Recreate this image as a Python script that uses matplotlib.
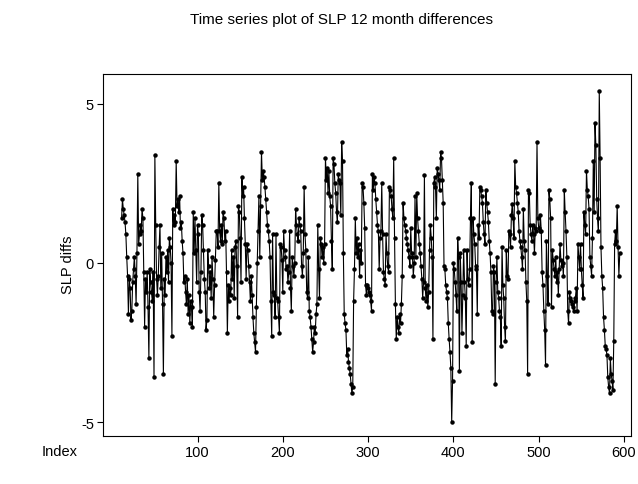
import matplotlib
matplotlib.use("Agg")
import matplotlib.pyplot as plt
import numpy as np

plt.rcParams['font.family'] = ['Liberation Sans', 'DejaVu Sans']
plt.rcParams['axes.unicode_minus'] = False

start_index = 11
seg1 = [1.4, 2.0, 1.7, 1.5, 1.3, 0.9, 0.2, -0.4, -1.6, -0.5, -0.8, -1.8, -1.5, -0.6, -0.2, 0.2, -0.4, -1.3, 0.3, 2.8,
        0.6, 0.9, 1.2, 1.0, 1.7, 1.4, -0.3, -2.0, -0.5, -0.9, -0.3, -1.4, -3.0, -0.2, -0.6, -0.9, -1.2, -0.3, -3.6, 3.4,
        1.2, -0.5, -1.0, -0.4]
seg2 = [0.5, 1.2, -0.8, 0.3, -1.3, -3.5, -0.5, -1.0, 0.2, -0.3, 0.4, -0.6, 0.8, 0.5, 0.0, -2.3, 1.7, 1.2, 1.5, 1.3,
        3.2, 1.8, 2.0, 1.6, 2.1, 1.1, 1.3, 0.7, 0.3, -0.6, -0.4, -0.9, -1.3, -0.5, -1.6, -1.0, -1.9, -1.2, -1.4, -2.0,
        1.6, 0.3, 1.4, 0.4, -0.6, 1.2, 0.9, -0.9, -1.5, -0.3]
seg3 = [1.5, 1.2, 0.4, -0.5, -0.9, -2.1, -1.8, 0.4, -0.1, -0.8, -0.3, -1.1, 0.2, -0.5, -1.7, -0.7, 0.1, 1.0, 1.0, 0.5,
        2.5, 1.0, 0.7, 1.2, 0.6, 1.6, 1.4, 0.7, 1.0, -0.3, -2.2, -0.7, -1.2, -0.8, -1.0, 0.4, -0.5, 0.2, -1.1, 0.5,
        0.7, -0.1, -1.7, 1.8, 1.6, 0.8, -0.6, 2.7, 2.1, 2.4]
seg4 = [1.4, 0.6, -0.5, 0.6, 0.4, -0.1, -0.6, -1.2, -0.4, -1.0, -1.7, -2.2, -2.5, -2.8, -1.4, 0.0, 1.0, 2.1, 0.2, 1.8,
        3.5, 2.6, 2.9, 2.7, 2.4, 2.0, 1.6, 1.2, 1.0, 0.7, 0.2, -1.2, -2.3, 0.9, -0.9, -1.0, -1.7, 0.9, -1.1, -1.2,
        -1.7, -2.2, 0.6, 0.5, 0.1, -0.9, 1.0, 0.4, 0.2, -0.2]
seg5 = [-0.1, -0.6, -0.3, 1.0, -0.8, -1.5, 0.2, -0.1, -0.4, 0.0, 1.7, 1.2, 0.9, 0.7, 1.4, 1.2, 1.0, -0.1, -0.4, 0.3,
        2.4, 0.9, 0.4, -0.9, -1.1, 0.2, -1.5, -1.7, -2.0, -2.4, -2.8, -2.5, -2.0, -2.2, -1.6, -1.3, 1.2, -0.2, -1.1, 0.8,
        0.6, 0.2, 0.5, 0.0, 0.6, 3.3, 2.6, 3.0, 2.2, 2.9]
seg6 = [2.1, 1.8, 0.7, -0.2, 3.3, 3.1, 2.5, 2.2, 1.6, 1.3, 2.8, 2.6, 2.5, 1.5, 3.8, 3.2, 0.3, -1.6, -1.9, -2.1,
        -2.9, -2.7, -3.1, -3.3, -3.5, -3.8, -4.1, -3.9, -1.2, -0.2, 1.4, 0.3, 0.8, 0.2, 0.6, -0.4, 0.4, 0.0, 2.5, 2.4,
        1.9, 1.1, -0.7, -1.0, -0.7, -0.8, -0.9, -1.0, -1.2, -1.5, 2.8, 2.3]
seg7 = [2.7, 2.5, 2.0, 1.6, 1.2, 1.0, -0.2, 0.8, 1.0, 2.5, 0.9, -0.3, -0.5, -0.7, 0.9, 0.3, -0.1, -0.3, 2.4, 2.3,
        2.1, 1.7, 1.4, 3.3, 0.8, -1.3, -2.4, -1.7, -2.0, -2.2, -1.6, -1.9, -1.3, -0.4, 1.9, 1.4, 1.2, 1.0, 0.8, 0.6,
        0.4, 0.2, -0.1, 1.1, 0.3, 0.2, -0.4, 0.0, 2.1, 0.2]
seg8 = [2.2, 1.4, 1.0, 0.6, 0.3, -0.1, -0.5, -1.1, -0.6, 2.75, -0.8, -1.2, -0.7, -1.4, -0.9, 0.4, 1.2, 0.8, 0.2, -2.4,
        2.5, 2.7, 2.4, 1.4, 3.0, 2.8, 2.6, 2.3, 3.5, 3.3, 2.6, 1.9, -0.1, -0.2, -0.7, -0.9, -1.1, -1.9, -2.4, -2.8,
        -3.3, -5.0, -3.7, 0.0, -0.2, -0.6, -1.0, -1.5, 0.8, 0.2]
seg9 = [-3.4, 0.3, -0.6, -2.2, -1.0, 0.4, -0.6, -1.1, -2.6, 0.4, -0.5, -0.7, -0.2, 1.4, 2.5, -2.5, 1.4, 0.9, 0.6, -0.1,
        -0.2, -1.6, 1.2, 0.8, 2.4, 2.3, 2.1, 1.9, 1.3, 0.9, 0.6, 2.3, 1.9, 1.6, 1.3, 0.7, 0.3, -0.3, -1.5, -1.6,
        -0.1, -0.3, -3.8, -0.6, 0.2, -0.9, -1.1, -1.5, -1.7, -2.6, 0.5]
seg10 = [-0.7, -1.1, -2.0, -2.45, 0.4, -0.4, -0.5, 1.0, 0.9, 0.5, 1.5, 1.85, 1.4, 0.8, 3.2, 2.4, 2.2, 1.9, 1.6, 1.0,
         0.7, 0.5, 0.2, -0.2, 1.7, 0.7, 0.4, -0.6, -1.2, -3.5, 2.3, 2.2, 1.2, 0.9, 0.7, 1.2, 0.9, 0.3, 1.1, 1.0,
         3.8, 1.4, 1.1, 1.0, 1.5, 1.0, -0.3, -0.7, -1.5, -2.1]
seg11 = [-3.2, 0.7, -0.4, -1.3, 2.3, 2.0, 1.4, -1.4, 0.4, 0.1, -0.2, -0.4, 0.2, -0.6, -0.3, -1.0, -0.2, 0.6, 0.1, -0.1,
         0.0, -0.4, 2.3, 1.6, 1.0, 0.2, -1.5, -1.9, -0.9, -1.1, -1.2, -1.3, -1.4, -1.5, -1.2, -1.1, -0.8, -1.5, 0.6, 0.2,
         -0.2, 0.6, -0.2, -0.7, -1.1, 1.6, 1.2, 0.9, 2.9, 2.3]
seg12 = [2.1, 1.7, 0.2, -0.1, -0.4, 0.8, 3.2, 1.6, 4.4, 3.7, 2.0, 1.4, 1.0, 5.4, 3.3, 0.5, -0.4, -0.8, -1.7, -2.1,
         -2.6, -2.7, -2.9, -3.6, -3.9, -4.1, -3.0, -3.5, -3.7, -4.0, -2.45, 0.6, 1.0, 0.7, 1.8, 0.5, -0.4, 0.3]

values = np.array(seg1 + seg2 + seg3 + seg4 + seg5 + seg6 + seg7 + seg8 + seg9 + seg10 + seg11 + seg12)
index = np.arange(start_index, start_index + len(values))

x_ticks = [100, 200, 300, 400, 500, 600]
y_ticks = [-5, 0, 5]

fig = plt.figure(figsize=(6.38, 4.85), dpi=100)
ax = fig.add_axes([103/638, 1-437/485, (631-103)/638, (437-75)/485])
ax.plot(index, values, color='black', linewidth=0.8, marker='o', markersize=2.2)

ax.set_xlim(-10.8, 608.2)
ax.set_ylim(-5.44, 5.94)
ax.set_xticks(x_ticks)
ax.set_yticks(y_ticks)
ax.tick_params(axis='both', labelsize=10.5, length=4, width=0.8, pad=2.5)
for s in ax.spines.values():
    s.set_linewidth(0.8)

fig.text(68/638, 1-265/485, 'SLP diffs', fontsize=10.5, rotation=90, ha='center', va='center')
fig.text(42/638, 1-452/485, 'Index', fontsize=10.5, va='center', ha='left')
fig.text(342/638, 1-20/485, 'Time series plot of SLP 12 month differences', fontsize=11,
         ha='center', va='center')

fig.savefig('out.png', dpi=100, facecolor='white')
